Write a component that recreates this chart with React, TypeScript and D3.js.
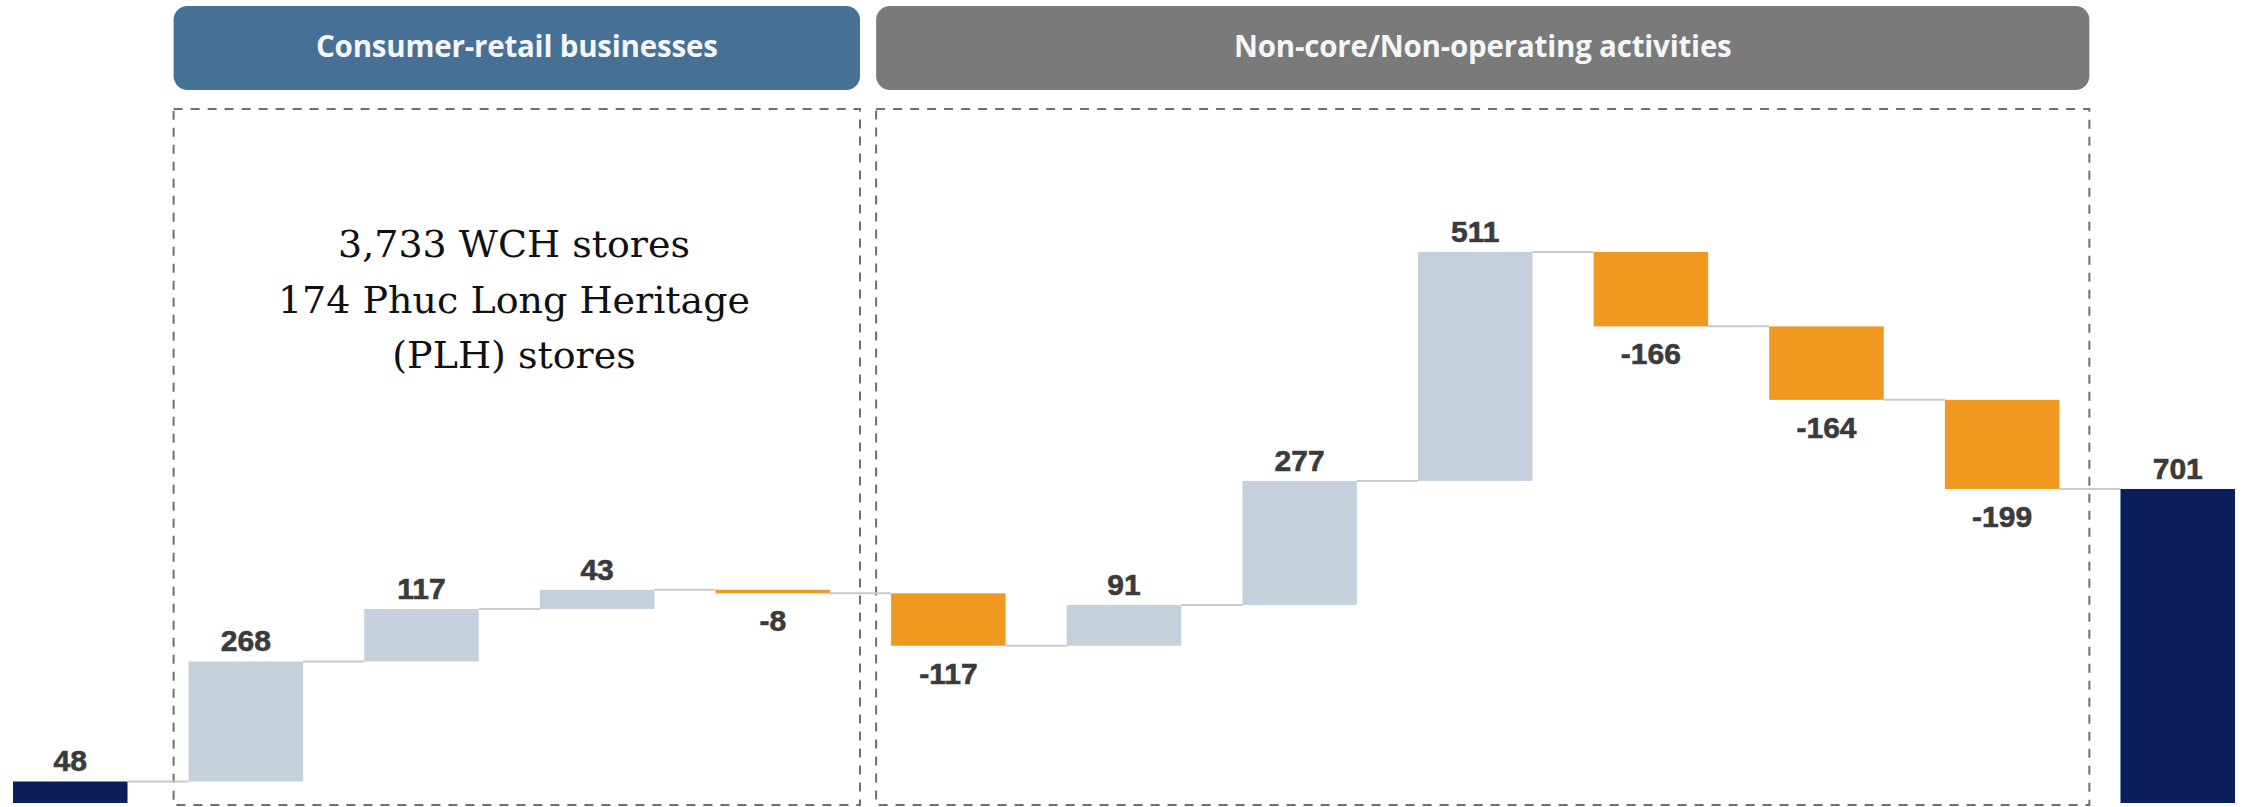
import React from 'react';
import * as d3 from 'd3';

// waterfall steps, left to right
const steps = ['start', 'cr1', 'cr2', 'cr3', 'cr4', 'nc1', 'nc2', 'nc3', 'nc4', 'nc5', 'nc6', 'nc7', 'end'];
const values = [48, 268, 117, 43, -8, -117, 91, 277, 511, -166, -164, -199, 701];
const isTotal = [true, false, false, false, false, false, false, false, false, false, false, false, true];

const groupNames = ['Consumer-retail businesses', 'Non-core/Non-operating activities'];
const groupFirst = ['cr1', 'nc1'];
const groupLast = ['cr4', 'nc7'];
const noteLines = ['3,733 WCH stores', '174 Phuc Long Heritage', '(PLH) stores'];

const W = 2246;
const H = 807;

const App = () => {
  // running totals
  const bars = [];
  let run = 0;
  steps.forEach((s, i) => {
    const v = values[i];
    let y0, y1;
    if (isTotal[i]) {
      y0 = 0;
      y1 = v;
      run = v;
    } else {
      y0 = run;
      y1 = run + v;
      run = y1;
    }
    bars.push({ key: s, v, y0, y1, total: isTotal[i] });
  });

  const x = d3.scaleBand().domain(steps).range([13, 2235]).paddingInner(0.348).paddingOuter(0);
  const y = d3.scaleLinear().domain([0, 1230]).range([803, 252]);
  const bw = x.bandwidth();

  const color = (d) => (d.total ? '#0b1f5c' : d.v < 0 ? '#f0981f' : '#c4d0dc');

  return (
    <div style={{ position: 'absolute', left: 0, top: 0 }}>
      <svg width={W} height={H} style={{ display: 'block', background: '#fff' }}>
        {groupNames.map((g, i) => {
          const left = x(groupFirst[i]) - 15;
          const right = x(groupLast[i]) + bw + 30;
          return (
            <g key={g}>
              <rect x={left} y={6} width={right - left} height={84} rx={14} fill={i === 0 ? '#467096' : '#7a7a7a'} />
              <text
                x={(left + right) / 2}
                y={49}
                textAnchor="middle"
                dominantBaseline="middle"
                fill="#f4f6f8"
                style={{ font: '700 29.5px "Open Sans", Lato, sans-serif', letterSpacing: '-0.2px' }}
              >
                {g}
              </text>
              <rect
                x={left}
                y={109}
                width={right - left}
                height={696}
                fill="none"
                stroke="#6f6f6f"
                strokeWidth={2}
                strokeDasharray="9 8"
              />
            </g>
          );
        })}

        {bars.slice(0, -1).map((d, i) => (
          <line
            key={'c' + i}
            x1={x(d.key) + bw}
            x2={x(bars[i + 1].key)}
            y1={y(d.y1)}
            y2={y(d.y1)}
            stroke="#cacaca"
            strokeWidth={2}
          />
        ))}

        {bars.map((d) => {
          const top = y(Math.max(d.y0, d.y1));
          const bot = y(Math.min(d.y0, d.y1));
          const neg = d.v < 0;
          return (
            <g key={d.key}>
              <rect x={x(d.key)} y={top} width={bw} height={Math.max(bot - top, 2)} fill={color(d)} />
              <text
                x={x(d.key) + bw / 2}
                y={neg ? bot + 38 : top - 10}
                textAnchor="middle"
                fill="#3b3b3b"
                stroke="#3b3b3b"
                strokeWidth={0.6}
                style={{ font: '700 30px "Liberation Sans", Arial, sans-serif' }}
              >
                {d.v}
              </text>
            </g>
          );
        })}

        {noteLines.map((t, i) => (
          <text
            key={t}
            x={514}
            y={257 + i * 55.5}
            textAnchor="middle"
            fill="#111"
            style={{ font: '400 38px "DejaVu Serif", serif' }}
          >
            {t}
          </text>
        ))}
      </svg>
    </div>
  );
};

export default App;
